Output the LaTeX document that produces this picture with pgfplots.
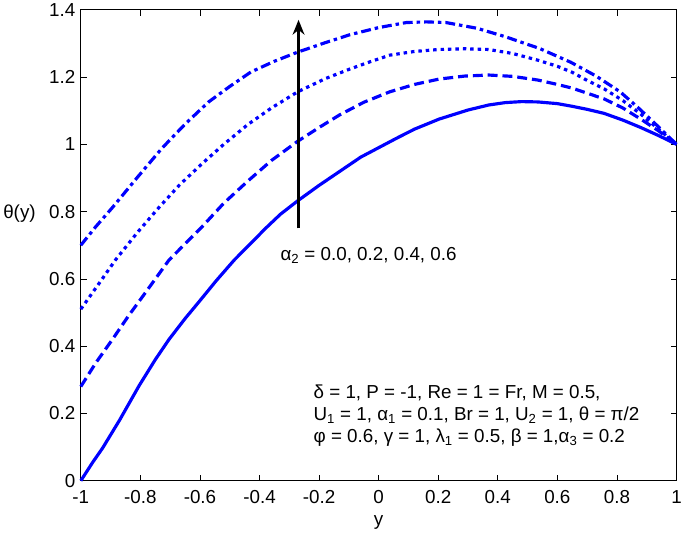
\documentclass[border=0pt]{standalone}
\usepackage{pgfplots}
\pgfplotsset{compat=1.18}
\usepackage{fontspec}
\setmainfont{Liberation Sans}
\usetikzlibrary{arrows.meta}
\definecolor{mblue}{rgb}{0,0,1}
\newcommand{\fs}{\fontsize{19}{22}\selectfont}
\begin{document}
\begin{tikzpicture}
\begin{axis}[
  scale only axis, width=602pt, height=476pt,
  xmin=-1, xmax=1, ymin=0, ymax=1.4,
  xtick={-1,-0.8,-0.6,-0.4,-0.2,0,0.2,0.4,0.6,0.8,1},
  xticklabels={-1,-0.8,-0.6,-0.4,-0.2,0,0.2,0.4,0.6,0.8,1},
  ytick={0,0.2,0.4,0.6,0.8,1,1.2,1.4},
  yticklabels={0,0.2,0.4,0.6,0.8,1,1.2,1.4},
  tick align=inside, major tick length=6pt,
  tick style={black, line width=0.7pt},
  axis line style={line width=0.7pt},
  ticklabel style={font=\fs},
  xticklabel style={yshift=-6pt},
  yticklabel style={xshift=-2pt},
  xlabel={y}, xlabel style={font=\fs, at={(rel axis cs:0.5,-0.088)}, anchor=center},
  ylabel={θ(y)}, ylabel style={font=\fs, rotate=-90, at={(rel axis cs:-0.103,0.567)}, anchor=center},
  clip=false,
]
% solid (alpha2 = 0.0)
\addplot[mblue, line width=3.2pt, solid, line join=round] coordinates {
(-1,0) (-0.96,0.055) (-0.927,0.097) (-0.87,0.18) (-0.804,0.283) (-0.75,0.36) (-0.704,0.42) (-0.65,0.482) (-0.605,0.53) (-0.545,0.595) (-0.485,0.656)
(-0.43,0.705) (-0.38,0.75) (-0.33,0.792) (-0.272,0.832) (-0.2,0.878) (-0.13,0.92) (-0.06,0.962) (0.0,0.99) (0.06,1.018) (0.12,1.045) (0.203,1.075)
(0.3,1.102) (0.37,1.117) (0.425,1.124) (0.48,1.127) (0.535,1.126) (0.6,1.121) (0.65,1.113) (0.7,1.104) (0.757,1.092) (0.82,1.072) (0.88,1.05) (0.94,1.026) (1,1.0)};
% dashed (alpha2 = 0.2)
\addplot[mblue, line width=3.2pt, dash pattern=on 10pt off 5pt] coordinates {
(-1,0.28) (-0.95,0.35) (-0.894,0.42) (-0.84,0.49) (-0.784,0.558) (-0.704,0.656) (-0.595,0.753) (-0.52,0.825) (-0.439,0.891) (-0.36,0.952) (-0.272,1.009)
(-0.2,1.05) (-0.13,1.088) (-0.05,1.125) (0.037,1.156) (0.12,1.178) (0.203,1.194) (0.29,1.203) (0.369,1.206) (0.45,1.202) (0.535,1.191) (0.6,1.178) (0.65,1.167) (0.757,1.135)
(0.82,1.108) (0.88,1.075) (0.94,1.04) (1,1.0)};
% dotted (alpha2 = 0.4)
\addplot[mblue, line width=3.2pt, dash pattern=on 3.5pt off 4pt] coordinates {
(-1,0.51) (-0.94,0.585) (-0.884,0.656) (-0.81,0.738) (-0.738,0.812) (-0.67,0.878) (-0.595,0.941) (-0.52,1.0) (-0.439,1.059) (-0.36,1.108) (-0.272,1.156) (-0.18,1.195) (-0.096,1.224)
(-0.03,1.245) (0.037,1.265) (0.12,1.276) (0.203,1.282) (0.29,1.284) (0.369,1.282) (0.45,1.27) (0.535,1.25) (0.6,1.232) (0.65,1.214) (0.7,1.19) (0.757,1.165) (0.82,1.13) (0.88,1.09) (0.94,1.045) (1,1.0)};
% dash-dot (alpha2 = 0.6)
\addplot[mblue, line width=3.2pt, dash pattern=on 10pt off 4pt on 3.5pt off 4pt] coordinates {
(-1,0.70) (-0.95,0.755) (-0.894,0.812) (-0.81,0.902) (-0.728,0.988) (-0.65,1.06) (-0.571,1.126) (-0.5,1.172) (-0.429,1.215) (-0.35,1.247) (-0.272,1.274) (-0.18,1.302) (-0.096,1.326)
(0.0,1.347) (0.093,1.362) (0.16,1.364) (0.226,1.362) (0.33,1.345) (0.425,1.32) (0.54,1.285) (0.645,1.244) (0.73,1.203) (0.811,1.156) (0.87,1.11) (0.93,1.06) (1,1.0)};
\draw[black, line width=2.2pt, -{Stealth[length=15pt,width=12pt]}] (axis cs:-0.269,0.75) -- (axis cs:-0.269,1.37);
\node[anchor=west, font=\fs, inner sep=0pt] at (axis cs:-0.33,0.67) {α\textsubscript{2} = 0.0, 0.2, 0.4, 0.6};
\node[anchor=north west, font=\fs, inner sep=0pt, align=left] at (axis cs:-0.219,0.285)
{\fontsize{19}{24}\selectfont δ = 1, P = -1, Re = 1 = Fr, M = 0.5,\\
U\textsubscript{1} = 1, α\textsubscript{1} = 0.1, Br = 1, U\textsubscript{2} = 1, θ = π/2\\
φ = 0.6, γ = 1, λ\textsubscript{1} = 0.5, β = 1,α\textsubscript{3} = 0.2};
\end{axis}
\end{tikzpicture}
\end{document}
